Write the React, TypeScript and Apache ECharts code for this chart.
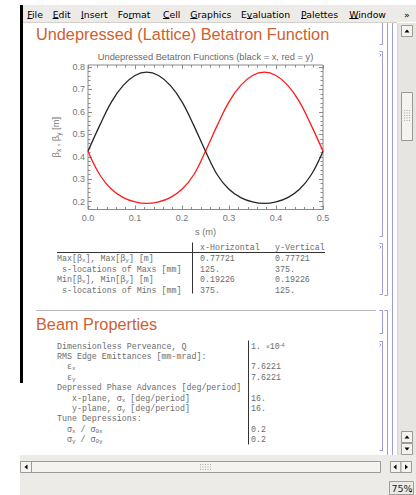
import React, { useEffect, useRef } from 'react';
import * as echarts from 'echarts';

// ---------------- data ----------------
const S_POSITIONS = [0, 0.025, 0.05, 0.075, 0.1, 0.125, 0.15, 0.175, 0.2, 0.225, 0.25, 0.275, 0.3, 0.325, 0.35, 0.375, 0.4, 0.425, 0.45, 0.475, 0.5];
const BETA_X = [0.425, 0.54, 0.645, 0.718, 0.762, 0.777, 0.762, 0.718, 0.645, 0.54, 0.425, 0.32, 0.255, 0.218, 0.199, 0.192, 0.199, 0.218, 0.255, 0.32, 0.425];
const BETA_Y = [0.425, 0.32, 0.255, 0.218, 0.199, 0.192, 0.199, 0.218, 0.255, 0.32, 0.425, 0.54, 0.645, 0.718, 0.762, 0.777, 0.762, 0.718, 0.645, 0.54, 0.425];

const Y_MAJOR_TICKS = [0.2, 0.3, 0.4, 0.5, 0.6, 0.7, 0.8];
const Y_MINOR_TICKS = [0.18, 0.22, 0.24, 0.26, 0.28, 0.32, 0.34, 0.36, 0.38, 0.42, 0.44, 0.46, 0.48, 0.52, 0.54, 0.56, 0.58, 0.62, 0.64, 0.66, 0.68, 0.72, 0.74, 0.76, 0.78];

const MENU_ITEMS = ['File', 'Edit', 'Insert', 'Format', 'Cell', 'Graphics', 'Evaluation', 'Palettes', 'Window'];

const SECTION_TITLE_1 = 'Undepressed (Lattice) Betatron Function';
const SECTION_TITLE_2 = 'Beam Properties';
const PLOT_TITLE = 'Undepressed Betatron Functions (black = x, red = y)';

const TABLE_HEADERS = ['x-Horizontal', 'y-Vertical'];
const TABLE_ROW_LABELS = ['Max[β{s|x}], Max[β{s|y}] [m]', ' s-locations of Maxs [mm]', 'Min[β{s|x}], Min[β{s|y}] [m]', ' s-locations of Mins [mm]'];
const TABLE_X_VALUES = ['0.77721', '125.', '0.19226', '375.'];
const TABLE_Y_VALUES = ['0.77721', '375.', '0.19226', '125.'];

const BEAM_LABELS = [
  'Dimensionless Perveance, Q',
  'RMS Edge Emittances [mm-mrad]:',
  '  ε{s|x}',
  '  ε{s|y}',
  'Depressed Phase Advances [deg/period]',
  '   x-plane, σ{s|x} [deg/period]',
  '   y-plane, σ{s|y} [deg/period]',
  'Tune Depressions:',
  '  σ{s|x} / σ{s|0x}',
  '  σ{s|y} / σ{s|0y}',
];
const BEAM_VALUES = ['1. {m|×}10{p|-4}', '', '7.6221', '7.6221', '', '16.', '16.', '', '0.2', '0.2'];

// ---------------- styling ----------------
const ORANGE = '#cf5f2f';
const BRACKET = '#9c9cd8';
const MONO = 'Liberation Mono';
const SANS = 'Liberation Sans';
const UI = 'DejaVu Sans';
const UI_BG = '#edebe8';
const MONO_GRAY = '#6c6c6c';

function buildGraphics(): any[] {
  const G: any[] = [];
  const rect = (x: number, y: number, w: number, h: number, fill: string, stroke?: string) =>
    G.push({ type: 'rect', silent: true, shape: { x, y, width: w, height: h }, style: { fill, stroke: stroke || null, lineWidth: stroke ? 1 : 0 } });
  const line = (x1: number, y1: number, x2: number, y2: number, stroke: string, lw = 1) =>
    G.push({ type: 'line', silent: true, shape: { x1, y1, x2, y2 }, style: { stroke, lineWidth: lw } });
  const poly = (points: number[][], fill: string) =>
    G.push({ type: 'polygon', silent: true, shape: { points }, style: { fill } });
  const text = (x: number, y: number, t: string, o: any = {}) =>
    G.push({
      type: 'text', silent: true, x, y,
      style: {
        text: t, fill: o.fill || '#000', fontSize: o.size || 10, fontFamily: o.family || SANS,
        align: o.align || 'left', verticalAlign: 'middle', rich: o.rich, lineHeight: o.lineHeight,
      },
    });

  // menu bar
  rect(23, 5, 393, 17, UI_BG);
  line(23, 22.5, 397, 22.5, '#d4d1cc');
  rect(20, 5, 3, 378, '#000');
  const menuX = [27.3, 52.7, 81, 117.7, 163, 190.3, 241, 301, 349.3];
  const ul: number[][] = [[0, 5.3], [0, 5.9], [0, 2.7], [11, 3.8], [0, 6.5], [0, 7.2], [5.9, 5.5], [0, 5.6], [0, 9.2]];
  MENU_ITEMS.forEach((m, i) => {
    text(menuX[i], 14.1, m, { family: UI, size: 9.3, fill: '#000' });
    line(menuX[i] + ul[i][0], 18.5, menuX[i] + ul[i][0] + ul[i][1], 18.5, '#000');
  });
  text(404, 14.1, '»', { family: UI, size: 9.3, fill: '#000' });

  // vertical scrollbar
  rect(397, 23, 19, 432, '#e7e5e1');
  line(397.5, 23, 397.5, 455, '#d6d3ce');
  const btn = (x: number, y: number, w: number, h: number) => rect(x, y, w, h, '#f4f3f1', '#9d9a95');
  btn(401.5, 25.5, 11, 11);
  poly([[404.5, 32.5], [409.5, 32.5], [407, 29.5]], '#000');
  btn(401.5, 92.5, 11, 48);
  for (let r = 0; r < 5; r++) for (let c = 0; c < 3; c++) rect(404 + c * 2.5, 110 + r * 2.5, 1, 1, '#a8a6a2');
  btn(401.5, 431.5, 11, 11);
  poly([[404.5, 438.5], [409.5, 438.5], [407, 435.5]], '#000');
  btn(401.5, 443.5, 11, 11);
  poly([[404.5, 447.5], [409.5, 447.5], [407, 450.5]], '#000');

  // bottom area
  rect(20, 455, 396, 40, UI_BG);
  btn(20.5, 461.5, 360, 11);
  line(31.5, 461.5, 31.5, 472.5, '#9d9a95');
  poly([[24.5, 467], [27.5, 464.5], [27.5, 469.5]], '#000');
  for (let r = 0; r < 3; r++) for (let c = 0; c < 5; c++) rect(200 + c * 2.5, 464 + r * 2.5, 1, 1, '#b0aeaa');
  btn(390.5, 461.5, 10.5, 11);
  poly([[393.5, 467], [396.5, 464.5], [396.5, 469.5]], '#000');
  btn(401, 461.5, 10.5, 11);
  poly([[408, 467], [405, 464.5], [405, 469.5]], '#000');
  rect(389.5, 481.5, 24, 13, UI_BG, '#a09d98');
  text(391.5, 488, '75%', { family: UI, size: 9.5, fill: '#222' });
  poly([[409.5, 491], [412, 491], [410.75, 492.6]], '#000');

  // cell brackets
  line(392.5, 23, 392.5, 455, BRACKET);
  line(387.5, 23, 387.5, 295.5, BRACKET);
  line(384.5, 295.5, 387.5, 295.5, BRACKET);
  line(387.5, 310.5, 387.5, 455, BRACKET);
  line(384.5, 310.5, 387.5, 310.5, BRACKET);
  const cells: [number, number, boolean, boolean][] = [
    [23, 44.5, false, false], [51.5, 236.5, true, true], [243.5, 294.5, true, true], [310.5, 333.5, true, false], [341.5, 450.5, true, true],
  ];
  cells.forEach(([a, b, top, out]) => {
    line(382.5, a, 382.5, b, BRACKET);
    line(379.5, b, 382.5, b, BRACKET);
    if (top) line(379.5, a, 382.5, a, BRACKET);
    if (out) G.push({ type: 'polyline', silent: true, shape: { points: [[379.5, a + 2], [381, a + 3.5], [379.5, a + 5]] }, style: { stroke: BRACKET, lineWidth: 1, fill: null } });
  });

  // section titles
  text(36, 34.3, SECTION_TITLE_1, { size: 16.3, fill: ORANGE });
  line(36, 310.5, 376, 310.5, '#b8b8b8');
  text(36, 324.3, SECTION_TITLE_2, { size: 16.3, fill: ORANGE });

  // plot title
  text(205.5, 57, PLOT_TITLE, { size: 9.3, fill: '#6a6a6a', align: 'center' });

  // table 1
  const monoRich = {
    s: { fontSize: 6, fontFamily: MONO, fill: MONO_GRAY, verticalAlign: 'bottom' },
  };
  const mono = { family: MONO, size: 8.3, fill: MONO_GRAY, rich: monoRich, lineHeight: 10 };
  text(200, 247, TABLE_HEADERS[0], mono);
  text(275, 247, TABLE_HEADERS[1], mono);
  line(57, 252.5, 325, 252.5, '#333');
  line(192.5, 242.5, 192.5, 293.5, '#333');
  const rowY1 = [258.3, 269.2, 279.8, 290.3];
  TABLE_ROW_LABELS.forEach((l, i) => {
    text(57, rowY1[i], l, mono);
    text(200, rowY1[i], TABLE_X_VALUES[i], mono);
    text(275, rowY1[i], TABLE_Y_VALUES[i], mono);
  });

  // beam table
  const rowY2 = [346.7, 356.7, 366.7, 377.2, 387.7, 398.2, 408.3, 418.9, 429.3, 439.3];
  line(248.5, 340.5, 248.5, 444.5, '#333');
  const valRich = {
    s: monoRich.s,
    m: { fontSize: 6.5, fontFamily: SANS, fill: MONO_GRAY },
    p: { fontSize: 5.5, fontFamily: SANS, fill: MONO_GRAY, verticalAlign: 'top' },
  };
  BEAM_LABELS.forEach((l, i) => {
    text(57, rowY2[i], l, mono);
    if (BEAM_VALUES[i]) text(251, rowY2[i], BEAM_VALUES[i], { ...mono, rich: valRich });
  });
  return G;
}

export default function App() {
  const ref = useRef<HTMLDivElement>(null);
  useEffect(() => {
    if (!ref.current) return;
    const chart = echarts.init(ref.current, undefined, { renderer: 'svg' });
    const axisGray = '#8a8a8a';
    const labelGray = '#757575';
    const yBase = {
      type: 'value', min: 0.165, max: 0.809,
      splitLine: { show: false }, axisLine: { show: false },
    };
    chart.setOption({
      animation: false,
      textStyle: { fontFamily: SANS },
      grid: { left: 88, top: 65, width: 235, height: 144.5, show: true, borderColor: axisGray, borderWidth: 1, backgroundColor: 'transparent' },
      xAxis: [
        {
          type: 'value', min: 0, max: 0.5, interval: 0.1, position: 'bottom',
          name: 's (m)', nameLocation: 'middle', nameGap: 18,
          nameTextStyle: { color: labelGray, fontSize: 9.3, fontFamily: SANS },
          axisLine: { show: false }, splitLine: { show: false },
          axisTick: { inside: true, length: 4, lineStyle: { color: axisGray } },
          minorTick: { show: true, splitNumber: 5, length: 2.5, lineStyle: { color: axisGray } },
          axisLabel: { color: labelGray, fontSize: 9, margin: 4, formatter: (v: number) => v.toFixed(1) },
        },
        {
          type: 'value', min: 0, max: 0.5, interval: 0.1, position: 'top',
          axisLine: { show: false }, splitLine: { show: false },
          axisTick: { inside: true, length: 4, lineStyle: { color: axisGray } },
          minorTick: { show: true, splitNumber: 5, length: 2.5, lineStyle: { color: axisGray } },
          axisLabel: { show: false },
        },
      ],
      yAxis: [
        {
          ...yBase, position: 'left',
          name: '{b|β}{s|x}{b| , β}{s|y}{b| [m]}', nameLocation: 'middle', nameGap: 20, nameRotate: 90,
          nameTextStyle: {
            color: labelGray,
            rich: {
              b: { fontSize: 9.3, color: labelGray, lineHeight: 12, fontFamily: SANS },
              s: { fontSize: 6.5, color: labelGray, verticalAlign: 'bottom', fontFamily: SANS },
            },
          },
          axisTick: { inside: true, length: 4, customValues: Y_MAJOR_TICKS, lineStyle: { color: axisGray } },
          axisLabel: { color: labelGray, fontSize: 9, margin: 3, customValues: Y_MAJOR_TICKS, formatter: (v: number) => v.toFixed(1) },
        },
        {
          ...yBase, position: 'left',
          axisTick: { inside: true, length: 2.5, customValues: Y_MINOR_TICKS, lineStyle: { color: axisGray } },
          axisLabel: { show: false },
        },
        {
          ...yBase, position: 'right',
          axisTick: { inside: true, length: 4, customValues: Y_MAJOR_TICKS, lineStyle: { color: axisGray } },
          axisLabel: { show: false },
        },
        {
          ...yBase, position: 'right',
          axisTick: { inside: true, length: 2.5, customValues: Y_MINOR_TICKS, lineStyle: { color: axisGray } },
          axisLabel: { show: false },
        },
      ],
      series: [
        {
          name: 'βy', type: 'line', xAxisIndex: 0, yAxisIndex: 0, smooth: 0.4, symbol: 'none',
          lineStyle: { color: '#ff1a1a', width: 1.3 },
          data: S_POSITIONS.map((s, i) => [s, BETA_Y[i]]),
        },
        {
          name: 'βx', type: 'line', xAxisIndex: 0, yAxisIndex: 0, smooth: 0.4, symbol: 'none',
          lineStyle: { color: '#262626', width: 1.3 },
          data: S_POSITIONS.map((s, i) => [s, BETA_X[i]]),
        },
      ],
      graphic: { elements: buildGraphics() },
    });
    return () => chart.dispose();
  }, []);
  return (
    <div style={{ position: 'absolute', left: 0, top: 0, width: 416, height: 495, background: '#fff' }}>
      <div ref={ref} style={{ width: 416, height: 495 }} />
    </div>
  );
}
